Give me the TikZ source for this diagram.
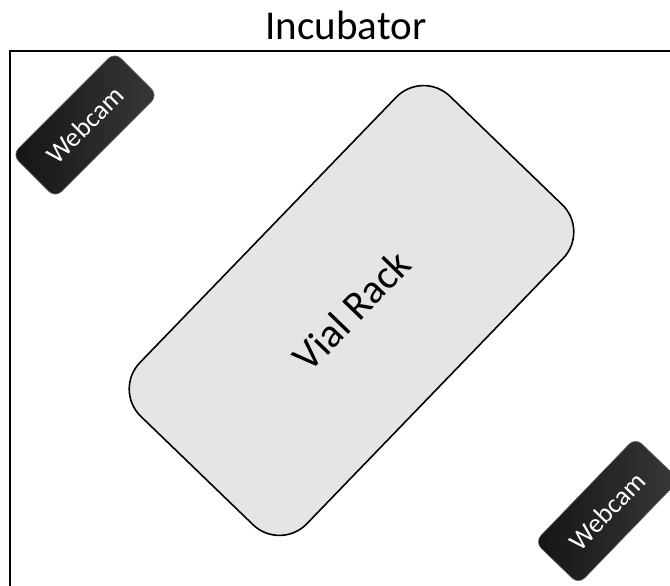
\documentclass[tikz,border=0pt]{standalone}
\usepackage{fontspec}
\setmainfont{Carlito}
\begin{document}
\begin{tikzpicture}[x=1pt,y=1pt,
    rack/.style={draw=black,line width=1.6pt,fill=black!10,rounded corners=38pt,
      minimum width=445pt,minimum height=232pt,inner sep=0pt,
      font=\fontsize{41}{41}\selectfont},
    cam/.style={draw=black!60,line width=0.6pt,rounded corners=9pt,
      minimum width=145pt,minimum height=61pt,inner sep=0pt,
      left color=black!92,right color=black!78,text=white,
      font=\fontsize{27}{27}\selectfont}]
  \useasboundingbox (0,0) rectangle (670,586);
  \node[anchor=base,font=\fontsize{41}{41}\selectfont] (title) at (346,546) {Incubator};
  % incubator walls (open to the right and bottom)
  \draw[line width=2.5pt] (10,-20) -- (10,535) -- (690,535);
  \node[rack,rotate=46] (rack) at (351.5,275.5) {Vial Rack};
  \node[cam,rotate=45] (camA) at (85,461) {Webcam};
  \node[cam,rotate=46] (camB) at (607,75) {Webcam};
\end{tikzpicture}
\end{document}
